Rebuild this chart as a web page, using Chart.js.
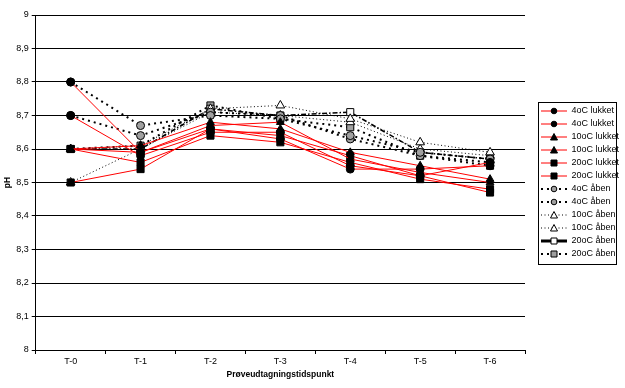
<!DOCTYPE html>
<html><head><meta charset="utf-8">
<script src="https://cdn.jsdelivr.net/npm/chart.js@4/dist/chart.umd.min.js"></script>
<style>html,body{margin:0;padding:0;background:#fff;}</style>
</head><body>
<canvas id="c" width="625" height="388"></canvas>
<script>
const categories = ['T-0', 'T-1', 'T-2', 'T-3', 'T-4', 'T-5', 'T-6'];
const yTickLabels = ['8', '8,1', '8,2', '8,3', '8,4', '8,5', '8,6', '8,7', '8,8', '8,9', '9'];
const seriesNames = ['4oC lukket', '4oC lukket', '10oC lukket', '10oC lukket', '20oC lukket', '20oC lukket',
                     '4oC åben', '4oC åben', '10oC åben', '10oC åben', '20oC åben', '20oC åben'];
const lukket4a  = [8.80, 8.59, 8.66, 8.63, 8.54, 8.54, 8.55];
const lukket4b  = [8.70, 8.58, 8.65, 8.65, 8.55, 8.52, 8.56];
const lukket10a = [8.60, 8.61, 8.68, 8.66, 8.59, 8.55, 8.51];
const lukket10b = [8.60, 8.59, 8.67, 8.68, 8.57, 8.53, 8.50];
const lukket20a = [8.60, 8.56, 8.64, 8.62, 8.56, 8.51, 8.48];
const lukket20b = [8.50, 8.54, 8.66, 8.64, 8.58, 8.52, 8.47];
const aaben4a   = [8.80, 8.67, 8.70, 8.69, 8.64, 8.59, 8.57];
const aaben4b   = [8.70, 8.64, 8.71, 8.70, 8.63, 8.58, 8.56];
const aaben10a  = [8.60, 8.61, 8.72, 8.73, 8.69, 8.62, 8.59];
const aaben10b  = [8.50, 8.60, 8.71, 8.70, 8.68, 8.60, 8.58];
const aaben20a  = [8.60, 8.60, 8.72, 8.70, 8.71, 8.59, 8.57];
const aaben20b  = [8.60, 8.61, 8.73, 8.69, 8.665, 8.58, 8.55];
const seriesValues = [lukket4a, lukket4b, lukket10a, lukket10b, lukket20a, lukket20b,
                      aaben4a, aaben4b, aaben10a, aaben10b, aaben20a, aaben20b];

const styles = [
  {line:'#FF0000', w:1, dash:[], ps:'circle', r:4, fill:'#000'},
  {line:'#FF0000', w:1, dash:[], ps:'circle', r:4, fill:'#000'},
  {line:'#FF0000', w:1, dash:[], ps:'triangle', r:4.5, fill:'#000'},
  {line:'#FF0000', w:1, dash:[], ps:'triangle', r:4.5, fill:'#000'},
  {line:'#FF0000', w:1, dash:[], ps:'rect', r:5, fill:'#000'},
  {line:'#FF0000', w:1, dash:[], ps:'rect', r:5, fill:'#000'},
  {line:'#000', w:2, dash:[2,4], ps:'circle', r:4, fill:'#a0a0a0'},
  {line:'#000', w:2, dash:[2,4], ps:'circle', r:4, fill:'#a0a0a0'},
  {line:'#000', w:1, dash:[1,2.5], ps:'triangle', r:5, fill:'#fff'},
  {line:'#000', w:1, dash:[1,2.5], ps:'triangle', r:5, fill:'#fff'},
  {line:'#000', w:1.5, dash:[5,2,1.5,2], ps:'rect', r:5, fill:'#fff'},
  {line:'#000', w:2, dash:[2,4], ps:'rect', r:5, fill:'#a0a0a0'}
];

function legendImg(s, i) {
  const cv = document.createElement('canvas');
  cv.width = 38; cv.height = 10;
  const g = cv.getContext('2d');
  g.strokeStyle = s.line;
  g.lineWidth = (i === 10) ? 3 : s.w;
  g.setLineDash(i === 10 ? [] : s.dash);
  g.beginPath(); g.moveTo(12, 5); g.lineTo(38, 5); g.stroke();
  g.setLineDash([]);
  g.fillStyle = s.fill; g.strokeStyle = '#000'; g.lineWidth = 1;
  const cx = 25, cy = 5;
  g.beginPath();
  if (s.ps === 'circle') { g.arc(cx, cy, 2.8, 0, Math.PI*2); }
  else if (s.ps === 'triangle') { g.moveTo(cx, cy-3.5); g.lineTo(cx+3.5, cy+3); g.lineTo(cx-3.5, cy+3); g.closePath(); }
  else { g.rect(cx-3, cy-3, 6, 6); }
  g.fill(); g.stroke();
  return cv;
}
const legendImgs = styles.map(legendImg);

const datasets = seriesValues.map((vals, i) => {
  const s = styles[i];
  return {
    label: seriesNames[i],
    data: vals,
    borderColor: s.line,
    borderWidth: s.w,
    borderDash: s.dash,
    pointStyle: s.ps,
    pointRadius: s.r,
    pointHoverRadius: s.r,
    pointBackgroundColor: s.fill,
    pointBorderColor: '#000',
    pointBorderWidth: 1,
    tension: 0,
    fill: false
  };
});

const legendBorder = {
  id: 'legendBorder',
  afterDraw(chart) {
    const lg = chart.legend;
    if (!lg || !lg.legendHitBoxes || !lg.legendHitBoxes.length) return;
    const hb = lg.legendHitBoxes;
    const ctx = chart.ctx;
    const top = Math.round(hb[0].top - 5) + 0.5;
    const last = hb[hb.length - 1];
    const bottom = Math.round(last.top + last.height + 5) + 0.5;
    const left = Math.round(lg.left + 13) + 0.5;
    const right = 616.5;
    ctx.save();
    ctx.strokeStyle = '#000'; ctx.lineWidth = 1;
    ctx.strokeRect(left, top, right - left, bottom - top);
    ctx.restore();
  }
};

const font = {family: 'Liberation Sans, Arial, sans-serif', size: 9};
new Chart(document.getElementById('c'), {
  type: 'line',
  data: {labels: categories, datasets},
  plugins: [legendBorder],
  options: {
    responsive: false,
    animation: false,
    devicePixelRatio: 1,
    layout: {padding: {left: 3, top: 15, right: 0, bottom: 8}},
    plugins: {
      tooltip: {enabled: false},
      legend: {
        position: 'right',
        fullSize: false,
        maxWidth: 100,
        labels: {
          usePointStyle: true,
          pointStyleWidth: 38,
          boxHeight: 9,
          padding: 4,
          color: '#000',
          font: {family: 'Liberation Sans, Arial, sans-serif', size: 9},
          generateLabels(chart) {
            const items = Chart.defaults.plugins.legend.labels.generateLabels(chart);
            items.forEach((it) => { it.pointStyle = legendImgs[it.datasetIndex]; });
            return items;
          }
        }
      }
    },
    scales: {
      x: {
        offset: true,
        grid: {offset: true, drawOnChartArea: false, drawTicks: true, tickLength: 4, color: '#000'},
        border: {display: true, color: '#000', width: 1},
        ticks: {color: '#000', font, padding: 2, maxRotation: 0},
        title: {display: true, text: 'Prøveudtagningstidspunkt', color: '#000',
                font: {family: 'Liberation Sans, Arial, sans-serif', size: 8.5, weight: 'bold'},
                padding: {top: 1, bottom: 0}}
      },
      y: {
        min: 8, max: 9,
        grid: {color: '#000', lineWidth: 1, drawTicks: true, tickLength: 4},
        border: {display: true, color: '#000', width: 1},
        ticks: {stepSize: 0.1, color: '#000', font, padding: 3,
                callback: (v, idx) => yTickLabels[idx]},
        title: {display: true, text: 'pH', color: '#000',
                font: {family: 'Liberation Sans, Arial, sans-serif', size: 8.5, weight: 'bold'},
                padding: 0}
      }
    }
  }
});
</script>
</body></html>
